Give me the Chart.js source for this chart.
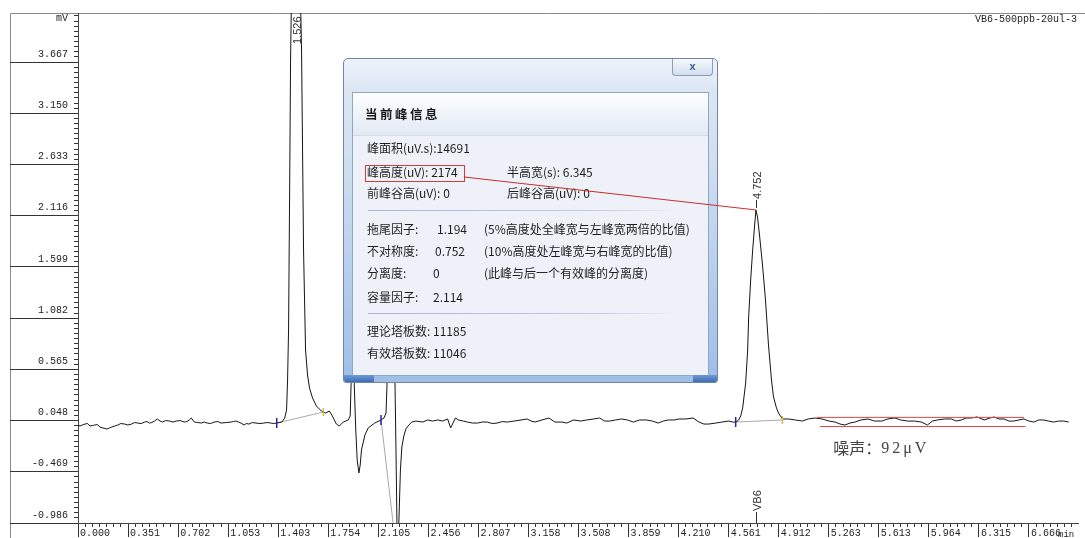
<!DOCTYPE html>
<html>
<head>
<meta charset="utf-8">
<script src="https://cdn.jsdelivr.net/npm/chart.js@4.4.0/dist/chart.umd.min.js"></script>
<style>
html,body{margin:0;padding:0;background:#fff;}
#stage{position:relative;width:1085px;height:538px;overflow:hidden;background:#fff;}
#plot{position:absolute;left:0;top:0;}
.dlg{position:absolute;left:343px;top:58px;width:375px;height:325px;box-sizing:border-box;
  border:1px solid #6f86a8;border-radius:5px 5px 3px 3px;
  background:linear-gradient(to bottom,#eef3f9 0,#dce6f3 32px,#cddcef 120px,#9fbee6 100%);
  font-family:"Noto Sans CJK SC",sans-serif;font-size:12px;color:#1e1e1e;}
.dlg .close{position:absolute;left:328px;top:0;width:41px;height:17px;box-sizing:border-box;
  border:1px solid #8a9dbb;border-top:none;border-radius:0 0 4px 4px;
  background:linear-gradient(#f6f9fc,#d2deed);color:#3a5b8e;
  font:bold 11px "Liberation Sans",sans-serif;text-align:center;line-height:15px;}
.dlg .panel{position:absolute;left:8px;top:33px;width:357px;height:284px;box-sizing:border-box;
  border:1px solid #8ea6c8;background:#eef2f8;}
.dlg .head{position:absolute;left:0;top:0;right:0;height:42px;
  background:linear-gradient(#fdfeff,#e2e9f4);border-bottom:1px solid #d3dcea;}
.dlg .cornerL,.dlg .cornerR{position:absolute;bottom:0;height:7px;background:linear-gradient(#6f9ad4,#3d6db3);}
.dlg .cornerL{left:0;width:30px;border-bottom-left-radius:3px;}
.dlg .cornerR{right:0;width:24px;border-bottom-right-radius:3px;}
.dlg .t{position:absolute;height:16px;line-height:16px;white-space:pre;}
.dlg .title{font-weight:700;font-size:12.5px;letter-spacing:2.5px;color:#1a1a1a;}
.dlg .sep{position:absolute;left:24px;width:313px;height:1px;
  background:linear-gradient(to right,#a9b3de,#c3cbe9 75%,rgba(195,203,233,0));}
.dlg .hl{position:absolute;left:21px;top:106px;width:100px;height:17px;box-sizing:border-box;border:1px solid #d03a3a;}
#leader{position:absolute;left:0;top:0;pointer-events:none;}
</style>
</head>
<body>
<div id="stage">
  <canvas id="plot" width="1085" height="538"></canvas>
  <div class="dlg">
    <div class="close">x</div>
    <div class="panel"><div class="head"></div></div>
    <div class="cornerL"></div><div class="cornerR"></div>
    <div class="t title" style="left:21px;top:47px">当前峰信息</div>
    <div class="t" style="left:23px;top:81px">峰面积(uV.s):14691</div>
    <div class="hl"></div>
    <div class="t" style="left:23px;top:105px">峰高度(uV): <span id="hVal"></span></div>
    <div class="t" style="left:163px;top:105px">半高宽(s): 6.345</div>
    <div class="t" style="left:23px;top:126px">前峰谷高(uV): 0</div>
    <div class="t" style="left:163px;top:126px">后峰谷高(uV): 0</div>
    <div class="sep" style="top:151px"></div>
    <div class="t" style="left:23px;top:162px">拖尾因子:</div>
    <div class="t" style="left:93px;top:162px">1.194</div>
    <div class="t" style="left:140px;top:162px">(5%高度处全峰宽与左峰宽两倍的比值)</div>
    <div class="t" style="left:23px;top:184px">不对称度:</div>
    <div class="t" style="left:91px;top:184px">0.752</div>
    <div class="t" style="left:140px;top:184px">(10%高度处左峰宽与右峰宽的比值)</div>
    <div class="t" style="left:23px;top:206px">分离度:</div>
    <div class="t" style="left:89px;top:206px">0</div>
    <div class="t" style="left:140px;top:206px">(此峰与后一个有效峰的分离度)</div>
    <div class="t" style="left:23px;top:230px">容量因子:</div>
    <div class="t" style="left:89px;top:230px">2.114</div>
    <div class="sep" style="top:254px"></div>
    <div class="t" style="left:23px;top:264px">理论塔板数: 11185</div>
    <div class="t" style="left:23px;top:286px">有效塔板数: 11046</div>
  </div>
  <svg id="leader" width="1085" height="538"><line id="leadLine" stroke="#cc2b2b" stroke-width="1"/></svg>
</div>
<script>
// ---- chromatogram data ----
const seriesName = 'VB6-500ppb-20ul-3';
const yUnit = 'mV';
const xUnit = 'min';
const xTickLabels = ['0.000','0.351','0.702','1.053','1.403','1.754','2.105','2.456','2.807','3.158',
                     '3.508','3.859','4.210','4.561','4.912','5.263','5.613','5.964','6.315','6.666'];
const yTickLabels = ['-0.986','-0.469','0.048','0.565','1.082','1.599','2.116','2.633','3.150','3.667'];

// retention time (min)
const timeMin = [
  0.000,0.014,0.030,0.049,0.066,0.084,0.101,0.118,0.136,0.153,0.175,0.202,0.220,0.237,0.258,0.279,
  0.300,0.327,0.350,0.376,0.397,0.418,0.443,0.467,0.484,0.501,0.517,0.536,0.557,0.575,0.592,0.613,
  0.641,0.665,0.689,0.717,0.745,0.763,0.780,0.794,0.815,0.840,0.864,0.885,0.905,0.930,0.954,0.980,
  1.003,1.038,1.072,1.090,1.107,1.125,1.142,1.163,1.180,1.198,1.222,1.247,1.275,1.302,1.326,1.351,
  1.372,1.393,1.410,1.428,
  1.449,1.462,1.469,1.476,1.483,1.490,1.504,1.526,1.546,1.567,1.581,1.588,1.595,1.609,1.623,1.644,
  1.671,1.706,1.734,1.762,1.783,1.811,1.832,1.859,1.894,1.908,1.915,1.926,1.936,1.947,1.957,1.969,
  1.978,1.987,2.011,2.034,2.080,2.124,2.145,2.159,2.166,2.173,2.194,2.215,2.222,2.229,2.239,2.249,
  2.260,2.270,2.284,2.298,2.319,2.340,2.368,
  2.417,2.451,2.486,2.521,2.556,2.591,2.612,2.632,2.646,2.667,2.702,2.730,2.765,2.800,2.834,2.869,
  2.904,2.939,2.974,3.009,3.057,3.106,3.148,3.176,3.204,3.252,3.301,3.343,3.392,3.426,3.475,3.524,
  3.566,3.615,3.656,3.691,3.726,3.768,3.809,3.851,3.893,3.935,3.984,4.026,4.067,4.102,4.137,4.179,
  4.213,4.262,4.311,4.353,4.387,4.422,4.471,4.513,4.562,4.589,4.610,
  4.631,4.645,4.659,4.680,4.694,4.701,4.715,4.729,4.743,4.752,4.763,4.777,4.798,4.819,4.840,4.861,
  4.875,4.896,4.910,4.938,
  4.980,5.028,5.077,5.119,5.167,5.216,5.265,5.307,5.342,5.376,5.411,5.446,5.488,5.537,5.585,5.634,
  5.676,5.725,5.766,5.815,5.864,5.912,5.954,5.989,6.024,6.073,6.122,6.156,6.191,6.226,6.261,6.303,
  6.352,6.393,6.421,6.456,6.491,6.526,6.560,6.595,6.630,6.665,6.700,6.734,6.769,6.804,6.839,6.874,
  6.909,6.944
];
// detector signal (mV)
const signalMv = [
  0.003,-0.007,0.003,0.013,0.018,-0.007,-0.002,0.003,0.008,-0.017,-0.027,-0.037,-0.027,-0.017,-0.007,0.003,
  0.018,0.013,0.003,0.013,0.028,0.023,0.018,0.033,0.038,0.023,0.028,0.043,0.064,0.043,0.033,0.048,
  0.043,0.033,0.043,0.048,0.033,0.038,0.054,0.074,0.033,0.028,0.023,0.033,0.023,0.018,0.033,0.038,
  0.023,0.028,0.033,0.038,0.043,0.033,0.023,0.003,0.018,0.013,0.028,0.023,0.018,0.023,0.028,0.023,
  0.018,0.023,0.028,0.033,
  0.074,0.154,0.457,0.962,2.274,3.687,5.100,5.800,5.302,3.788,1.769,1.265,0.760,0.508,0.376,0.276,
  0.195,0.144,0.124,0.144,0.094,0.013,-0.007,0.033,0.054,0.094,0.457,1.769,0.427,-0.047,-0.350,-0.481,
  -0.401,-0.249,-0.098,-0.027,0.023,0.054,0.074,0.124,0.407,1.265,2.072,1.265,0.427,-0.249,-1.359,-0.986,
  -0.451,-0.219,-0.108,-0.037,0.003,0.033,0.043,
  0.033,0.054,0.043,0.054,0.043,0.064,-0.027,0.033,0.074,0.054,0.043,0.033,0.023,0.023,0.033,0.033,
  0.018,0.023,0.038,0.033,0.043,0.054,0.064,0.043,0.033,0.054,0.074,0.033,0.033,0.023,0.054,0.043,
  0.054,0.064,0.074,0.043,0.043,0.054,0.064,0.054,0.033,0.054,0.054,0.043,0.023,0.043,0.054,0.054,
  0.064,0.064,0.074,0.033,0.013,0.013,0.023,0.033,0.043,0.033,0.033,
  0.054,0.094,0.175,0.427,0.760,1.093,1.467,1.769,2.022,2.174,2.102,1.921,1.618,1.265,0.811,0.457,
  0.286,0.175,0.124,0.064,
  0.064,0.054,0.043,0.064,0.074,0.064,0.043,0.033,0.013,0.003,0.023,0.033,0.054,0.064,0.043,0.043,
  0.064,0.074,0.054,0.043,0.043,0.033,0.003,0.043,0.054,0.064,0.064,0.043,0.054,0.074,0.074,0.084,
  0.054,0.074,0.084,0.064,0.064,0.043,0.043,0.054,0.064,0.043,0.033,0.054,0.054,0.043,0.033,0.043,
  0.043,0.033
];

// identified peaks
const peakLabels = ['1.526','4.752'];
const peakNames = ['', 'VB6'];
const peakHeightUv = 2174;

// integration start / end points
const integStartTimes = [1.393, 2.124, 4.610];
const integStartLevels = [0.023, 0.054, 0.033];
const integEndTimes = [1.720, 2.239, 4.938];
const integEndLevels = [0.134, -1.359, 0.054];

// noise measurement window
const noiseUv = 92;
const noiseTop = 0.080;
const noiseFrom = [5.181, 5.202];
const noiseTo = [6.630, 6.644];

// axis ranges
const xMin = 0, xMax = 7.013;
const yMin = -0.986, yMax = 4.162;

// ---- derived helpers ----
const xTickValues = xTickLabels.map(Number);
const yTickValues = yTickLabels.map(Number);
const peakTimes = peakLabels.map(Number);
const xMajorStep = (xTickValues[xTickValues.length - 1] - xTickValues[0]) / (xTickValues.length - 1);
const yMajorStep = (yTickValues[yTickValues.length - 1] - yTickValues[0]) / (yTickValues.length - 1);
const pts = (xs, ys) => xs.map((v, i) => ({x: v, y: ys[i]}));

document.getElementById('hVal').textContent = String(peakHeightUv);

const monoFont = {family: '"Liberation Mono", monospace', size: 10};

const frameAndLabels = {
  id: 'frameAndLabels',
  beforeDraw(chart) {
    const {ctx, chartArea: a} = chart;
    ctx.save();
    ctx.lineWidth = 1;
    ctx.strokeStyle = '#8a8a8a';
    ctx.beginPath();
    ctx.moveTo(10.5, 538);
    ctx.lineTo(10.5, a.top + 0.5);
    ctx.lineTo(1085, a.top + 0.5);
    ctx.stroke();
    ctx.strokeStyle = '#444';
    ctx.beginPath();
    ctx.moveTo(10.5, a.bottom + 0.5);
    ctx.lineTo(a.left, a.bottom + 0.5);
    ctx.stroke();
    ctx.restore();
  },
  afterDraw(chart) {
    const {ctx, chartArea: a} = chart;
    const xs = chart.scales.x, ys = chart.scales.y;
    ctx.save();
    ctx.fillStyle = '#222';
    ctx.font = '10px "Liberation Mono", monospace';
    ctx.textAlign = 'right';
    ctx.textBaseline = 'middle';
    ctx.fillText(yUnit, 68, a.top + 5);
    ctx.fillText(seriesName, 1077, a.top + 6);
    ctx.textAlign = 'left';
    ctx.textBaseline = 'alphabetic';
    ctx.font = '9px "Liberation Mono", monospace';
    ctx.fillText(xUnit, xs.getPixelForValue(xTickValues[xTickValues.length - 1]) + 29, 537);

    // peak retention-time labels
    ctx.font = '11px "Liberation Sans", Arial, sans-serif';
    ctx.fillStyle = '#333';
    ctx.strokeStyle = '#333';
    ctx.lineWidth = 1;
    const vText = (txt, px, py) => {
      ctx.save();
      ctx.translate(px, py);
      ctx.rotate(-Math.PI / 2);
      ctx.textAlign = 'left';
      ctx.textBaseline = 'middle';
      ctx.fillText(txt, 0, 0);
      ctx.restore();
    };
    peakTimes.forEach((t, i) => {
      const px = Math.round(xs.getPixelForValue(t)) + 0.5;
      const apex = ys.getPixelForValue(signalMv[timeMin.indexOf(t)]);
      let start;
      if (apex < a.top + 32) {
        start = a.top + 31;
      } else {
        ctx.beginPath();
        ctx.moveTo(px, apex - 2);
        ctx.lineTo(px, apex - 10);
        ctx.stroke();
        start = apex - 11;
      }
      vText(peakLabels[i], px + 1, start);
      if (peakNames[i]) {
        ctx.beginPath();
        ctx.moveTo(px, a.bottom);
        ctx.lineTo(px, a.bottom - 11);
        ctx.stroke();
        vText(peakNames[i], px + 1, a.bottom - 12);
      }
    });

    // noise value under the measurement window
    const nx = xs.getPixelForValue(noiseFrom[0]) + 16;
    const ny = ys.getPixelForValue(noiseTop - noiseUv / 1000) + 21;
    ctx.fillStyle = '#444';
    ctx.textAlign = 'left';
    ctx.textBaseline = 'middle';
    ctx.font = '16px "Noto Sans CJK SC", sans-serif';
    ctx.fillText('噪声：', nx, ny);
    ctx.font = '16px "Liberation Serif", serif';
    ctx.letterSpacing = '3px';
    ctx.fillText(noiseUv + 'μV', nx + 48, ny + 1);
    ctx.letterSpacing = '0px';
    ctx.restore();
  }
};

const greyBase = integStartTimes.map((t, i) => ({
  type: 'line',
  data: [{x: t, y: integStartLevels[i]}, {x: integEndTimes[i], y: integEndLevels[i]}],
  borderColor: '#a8a8a8', borderWidth: 1, pointRadius: 0, order: 3, clip: 0
}));

const chart = new Chart(document.getElementById('plot'), {
  type: 'line',
  data: {
    datasets: [
      {
        data: pts(timeMin, signalMv),
        borderColor: '#151515', borderWidth: 1, pointRadius: 0, tension: 0, order: 2, clip: 0
      },
      ...greyBase,
      {
        data: pts(integStartTimes, integStartLevels), showLine: false,
        pointStyle: 'line', rotation: 90, pointRadius: 5, pointBorderColor: '#26269a',
        pointBorderWidth: 1.5, order: 0, clip: 0
      },
      {
        data: pts(integEndTimes.slice(0, 1).concat(integEndTimes.slice(2)),
                  integEndLevels.slice(0, 1).concat(integEndLevels.slice(2))), showLine: false,
        pointStyle: 'line', rotation: 90, pointRadius: 4, pointBorderColor: '#c9c54a',
        pointBorderWidth: 1.5, order: 0, clip: 0
      },
      {
        data: [{x: noiseFrom[0], y: noiseTop}, {x: noiseTo[0], y: noiseTop}],
        borderColor: '#e04848', borderWidth: 1, pointRadius: 0, order: 1
      },
      {
        data: [{x: noiseFrom[1], y: noiseTop - noiseUv / 1000}, {x: noiseTo[1], y: noiseTop - noiseUv / 1000}],
        borderColor: '#e04848', borderWidth: 1, pointRadius: 0, order: 1
      }
    ]
  },
  options: {
    responsive: false,
    animation: false,
    devicePixelRatio: 1,
    events: [],
    layout: {padding: {top: 13, left: 0, right: 0, bottom: 0}},
    plugins: {legend: {display: false}, tooltip: {enabled: false}},
    scales: {
      x: {
        type: 'linear', position: 'bottom', min: xMin, max: xMax, weight: 1,
        afterBuildTicks: s => { s.ticks = xTickValues.map(v => ({value: v})); },
        afterFit: s => { s.height = 15; },
        grid: {drawOnChartArea: false, drawTicks: true, tickLength: 14, color: '#333'},
        border: {display: true, color: '#444'},
        ticks: {
          callback: (v, i) => xTickLabels[i], align: 'start', labelOffset: 2, padding: -10,
          maxRotation: 0, autoSkip: false, font: monoFont, color: '#222'
        }
      },
      xMinor: {
        type: 'linear', position: 'bottom', min: xMin, max: xMax, weight: 0,
        afterBuildTicks: s => {
          const t = [];
          for (let k = 0; xMin + k * xMajorStep / 7 <= xMax; k++) t.push({value: xMin + k * xMajorStep / 7});
          s.ticks = t;
        },
        afterFit: s => { s.height = 0; },
        grid: {drawOnChartArea: false, drawTicks: true, tickLength: 4, color: '#333'},
        border: {display: false},
        ticks: {display: false}
      },
      y: {
        type: 'linear', position: 'left', min: yMin, max: yMax, weight: 1,
        afterBuildTicks: s => { s.ticks = yTickValues.map(v => ({value: v})); },
        afterFit: s => { s.width = 78; },
        grid: {drawOnChartArea: false, drawTicks: true, tickLength: 68, color: '#333'},
        border: {display: true, color: '#444'},
        ticks: {
          callback: (v, i) => yTickLabels[i], padding: -58, labelOffset: -8,
          autoSkip: false, font: monoFont, color: '#222'
        }
      },
      yMinor: {
        type: 'linear', position: 'left', min: yMin, max: yMax, weight: 0,
        afterBuildTicks: s => {
          const t = [];
          for (let k = 0; yMin + k * yMajorStep / 10 <= yMax; k++) t.push({value: yMin + k * yMajorStep / 10});
          s.ticks = t;
        },
        afterFit: s => { s.width = 0; },
        grid: {drawOnChartArea: false, drawTicks: true, tickLength: 4, color: '#333'},
        border: {display: false},
        ticks: {display: false}
      }
    }
  },
  plugins: [frameAndLabels]
});

// leader from the highlighted peak height to the apex of the selected peak
const apexX = chart.scales.x.getPixelForValue(peakTimes[1]);
const apexY = chart.scales.y.getPixelForValue(peakHeightUv / 1000);
const lead = document.getElementById('leadLine');
lead.setAttribute('x1', 464); lead.setAttribute('y1', 177);
lead.setAttribute('x2', apexX); lead.setAttribute('y2', apexY);
</script>
</body>
</html>
